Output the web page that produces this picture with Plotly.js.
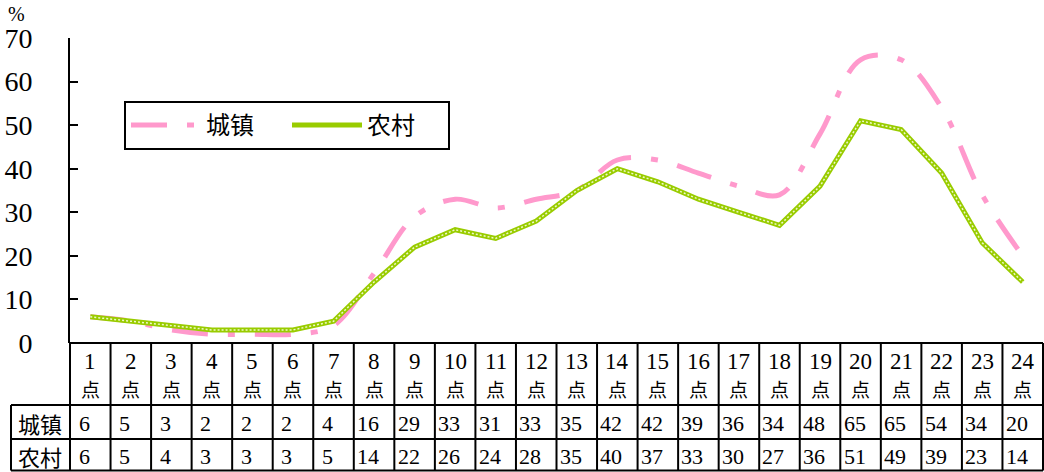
<!DOCTYPE html>
<html>
<head>
<meta charset="utf-8">
<script src="https://cdn.plot.ly/plotly-3.0.1.min.js"></script>
<style>html,body{margin:0;padding:0;background:#fff;}#chart{width:1044px;height:472px;}</style>
</head>
<body>
<div id="chart"></div>
<script>
// ---- data ----
const hours = ['1','2','3','4','5','6','7','8','9','10','11','12','13','14','15','16','17','18','19','20','21','22','23','24'];
const hourUnit = '点';
const seriesNames = ['城镇', '农村'];
const urban = [6,5,3,2,2,2,4,16,29,33,31,33,35,42,42,39,36,34,48,65,65,54,34,20];
const rural = [6,5,4,3,3,3,5,14,22,26,24,28,35,40,37,33,30,27,36,51,49,39,23,14];
const yTicks = [0,10,20,30,40,50,60,70];
const unitLabel = '%';

// ---- geometry helpers ----
const W = 1044, H = 472, ML = 70, MR = 1, MT = 38, MB = 129;
const PW = W - ML - MR, PH = H - MT - MB;
const px = p => (p - ML) / PW;          // pixel x -> paper
const py = p => (H - MB - p) / PH;      // pixel y -> paper
const serif = '"Liberation Serif", "Noto Sans CJK SC", serif';
const cjk = '"Noto Sans CJK SC", "Liberation Serif", sans-serif';

const traces = [
  {x: hours, y: urban, name: seriesNames[0], type: 'scatter', mode: 'lines',
   line: {color: '#FF99CC', width: 5, shape: 'spline', smoothing: 1, dash: '36px,20px,7px,20px'}},
  {x: hours, y: rural, name: seriesNames[1], type: 'scatter', mode: 'lines',
   line: {color: '#99CC00', width: 5}},
  {x: hours, y: rural, name: seriesNames[1], type: 'scatter', mode: 'lines', showlegend: false,
   line: {color: '#EEF8C8', width: 1.5, dash: '2px,2px'}}
];

const shapes = [];
const L = {color: '#000', width: 2};
const n = hours.length;
const leftX = px(11);
shapes.push({type: 'line', xref: 'paper', yref: 'paper', x0: 0, x1: 1, y0: 0, y1: 0, line: L});
[405, 439, 470.5].forEach(p => shapes.push({type: 'line', xref: 'paper', yref: 'paper', x0: leftX, x1: 1, y0: py(p), y1: py(p), line: L}));
for (let i = 0; i <= n; i++) {
  shapes.push({type: 'line', xref: 'paper', yref: 'paper', x0: i / n, x1: i / n, y0: 0, y1: py(470.5), line: L});
}
shapes.push({type: 'line', xref: 'paper', yref: 'paper', x0: leftX, x1: leftX, y0: py(405), y1: py(470.5), line: L});

const annotations = [];
hours.forEach((h, i) => {
  annotations.push({x: i, xref: 'x', yref: 'paper', y: py(361), text: h, showarrow: false,
    xanchor: 'center', yanchor: 'middle', font: {family: serif, size: 23, color: '#000'}});
  annotations.push({x: i, xref: 'x', yref: 'paper', y: py(388), text: hourUnit, showarrow: false,
    xanchor: 'center', yanchor: 'middle', font: {family: cjk, size: 19, color: '#000'}});
  annotations.push({x: i, xref: 'x', yref: 'paper', y: py(423), text: String(urban[i]), showarrow: false,
    xanchor: 'center', yanchor: 'middle', xshift: -6, font: {family: serif, size: 22, color: '#000'}});
  annotations.push({x: i, xref: 'x', yref: 'paper', y: py(456), text: String(rural[i]), showarrow: false,
    xanchor: 'center', yanchor: 'middle', xshift: -6, font: {family: serif, size: 22, color: '#000'}});
});
annotations.push({x: px(40), xref: 'paper', yref: 'paper', y: py(423), text: seriesNames[0], showarrow: false,
  xanchor: 'center', yanchor: 'middle', font: {family: cjk, size: 22, color: '#000'}});
annotations.push({x: px(40), xref: 'paper', yref: 'paper', y: py(456), text: seriesNames[1], showarrow: false,
  xanchor: 'center', yanchor: 'middle', font: {family: cjk, size: 22, color: '#000'}});
annotations.push({x: px(16), xref: 'paper', yref: 'paper', y: py(14), text: unitLabel, showarrow: false,
  xanchor: 'center', yanchor: 'middle', font: {family: serif, size: 20, color: '#000'}});

const layout = {
  width: W, height: H,
  margin: {l: ML, r: MR, t: MT, b: MB, pad: 0},
  paper_bgcolor: '#fff', plot_bgcolor: '#fff',
  showlegend: true,
  legend: {orientation: 'h', x: px(124), y: py(101), xanchor: 'left', yanchor: 'top',
    bordercolor: '#000', borderwidth: 2, bgcolor: '#fff', itemwidth: 70,
    font: {family: cjk, size: 24, color: '#000'}, entrywidth: 76, entrywidthmode: 'pixels'},
  xaxis: {type: 'category', range: [-0.5, n - 0.5], showline: false, showgrid: false, zeroline: false,
    showticklabels: false, ticks: '', fixedrange: true},
  yaxis: {range: [0, 70], tickvals: yTicks, showline: true, linecolor: '#000', linewidth: 2,
    ticks: 'inside', ticklen: 8, tickwidth: 2, tickcolor: '#000', showgrid: false, zeroline: false,
    ticklabelstandoff: 30, tickfont: {family: serif, size: 28, color: '#000'}, fixedrange: true},
  shapes: shapes,
  annotations: annotations
};

Plotly.newPlot('chart', traces, layout, {displayModeBar: false, staticPlot: true});
</script>
</body>
</html>
